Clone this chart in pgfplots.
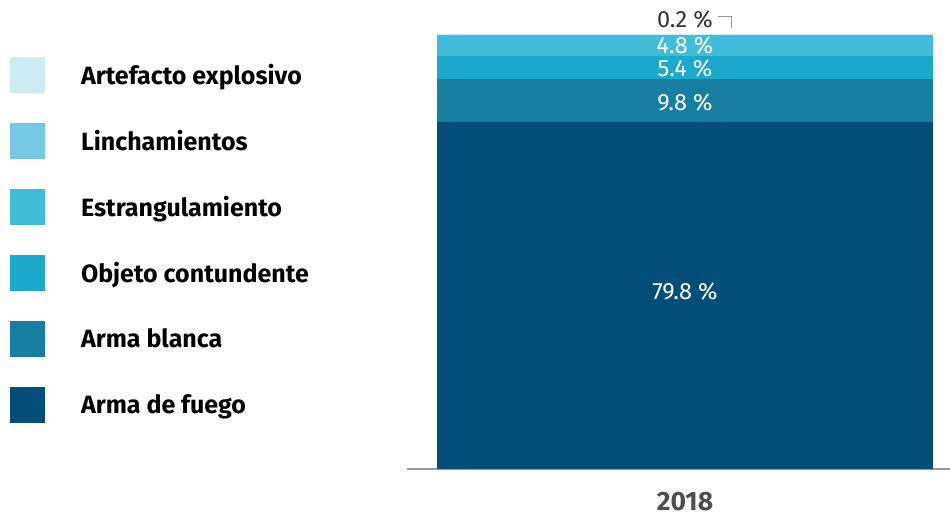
\documentclass[border=0pt]{standalone}
\usepackage{pgfplots}
\pgfplotsset{compat=1.18}
\usepackage{fontspec}
\setmainfont{Fira Sans}
\definecolor{cFuego}{HTML}{024E78}
\definecolor{cBlanca}{HTML}{157EA1}
\definecolor{cObjeto}{HTML}{1CA8CB}
\definecolor{cEstr}{HTML}{41BDD9}
\definecolor{cLinch}{HTML}{76C9E4}
\definecolor{cArte}{HTML}{CDEBF3}
\definecolor{axisgray}{HTML}{999999}
\definecolor{labgray}{HTML}{4D4D4D}
\definecolor{darklab}{HTML}{333333}
\pgfplotsset{
  mybar/.style={draw=none, fill=#1,
    legend image code/.code={\fill[#1] (0bp,-18bp) rectangle (35bp,18bp);}},
  inlab/.style={nodes near coords={#1},
    every node near coord/.append style={anchor=center, text=white,
      font=\fontsize{23.5bp}{26bp}\selectfont}},
}
\begin{document}
\begin{tikzpicture}
\path[use as bounding box] (0,0) rectangle (950bp,516bp);
\begin{axis}[
  at={(407bp,47bp)}, anchor=south west,
  scale only axis, width=543bp, height=435bp,
  xmin=-0.512, xmax=0.488, ymin=0, ymax=100,
  ybar stacked, bar width=0.9134,
  axis x line*=bottom, axis y line=none,
  x axis line style={color=axisgray, line width=1.3bp, -},
  xtick={0}, xticklabels={2018}, major tick length=0pt,
  xticklabel style={anchor=center, inner sep=0pt, yshift=-32.5bp, text=labgray,
    font=\fontsize{26.5bp}{30bp}\selectfont\bfseries},
  ytick=\empty,
  clip=false,
  reverse legend,
  legend cell align=left,
  legend style={at={(-0.7311,0.9471)}, anchor=north west, draw=none, fill=none,
    inner sep=0pt, outer sep=0pt, row sep=30bp, column sep=36bp,
    font=\fontsize{25bp}{28bp}\selectfont\bfseries,
    nodes={inner sep=0pt, text=black}},
]
\addplot[mybar=cFuego, inlab={79.8~\%}, every node near coord/.append style={yshift=4bp}] coordinates {(0,79.8)};
\addlegendentry{Arma de fuego}
\addplot[mybar=cBlanca, inlab={9.8~\%}, every node near coord/.append style={yshift=-1.5bp}] coordinates {(0,9.8)};
\addlegendentry{Arma blanca}
\addplot[mybar=cObjeto, inlab={5.4~\%}, every node near coord/.append style={yshift=-1.5bp}] coordinates {(0,5.4)};
\addlegendentry{Objeto contundente}
\addplot[mybar=cEstr, inlab={4.8~\%}, every node near coord/.append style={yshift=-0.5bp}] coordinates {(0,4.8)};
\addlegendentry{Estrangulamiento}
\addplot[mybar=cLinch] coordinates {(0,0)};
\addlegendentry{Linchamientos}
\addplot[mybar=cArte, inlab={0.2~\%}, every node near coord/.append style={yshift=15bp, text=darklab}] coordinates {(0,0.2)};
\addlegendentry{Artefacto explosivo}
\draw[axisgray, line width=1bp] (axis cs:0.0608,104.1) -- (axis cs:0.0847,104.1) -- (axis cs:0.0847,101.4);
\end{axis}
\end{tikzpicture}
\end{document}
